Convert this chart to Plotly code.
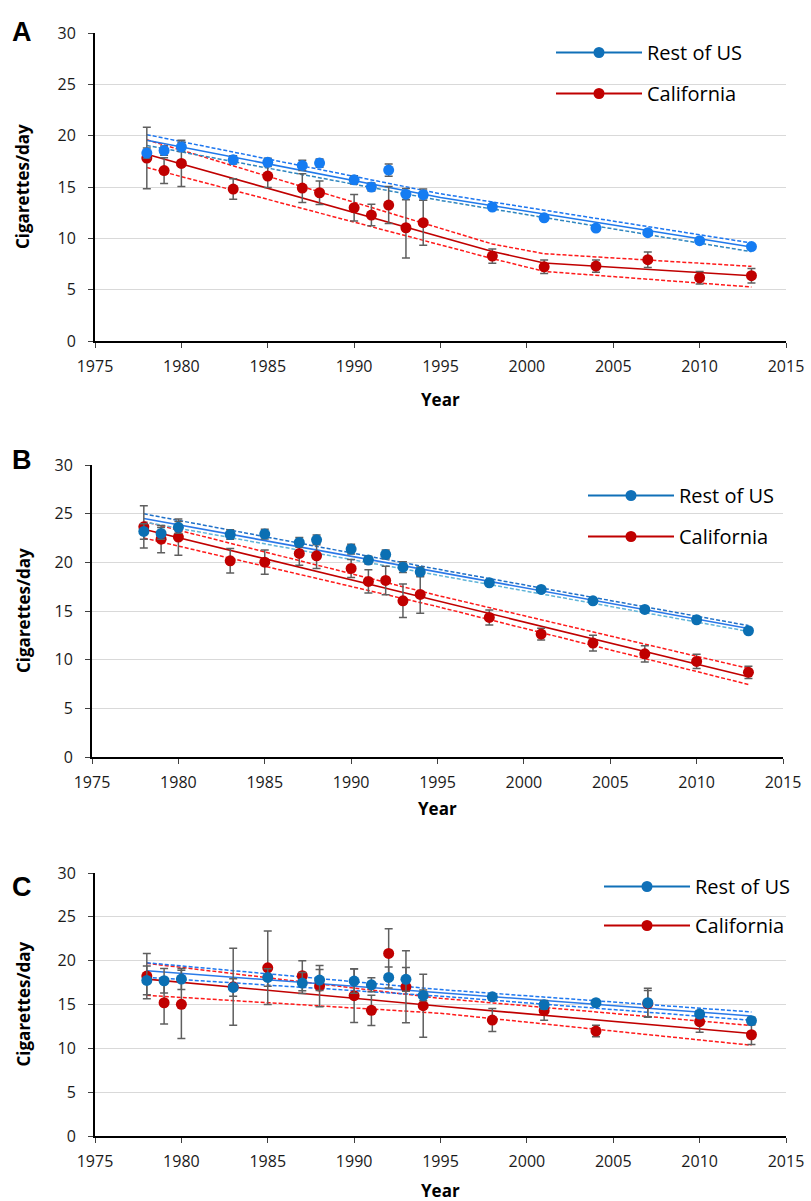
import plotly.graph_objects as go

years = [1978, 1979, 1980, 1983, 1985, 1987, 1988, 1990, 1991, 1992, 1993, 1994,
         1998, 2001, 2004, 2007, 2010, 2013]

# Panel A
A_us = [18.3, 18.55, 18.9, 17.65, 17.4, 17.1, 17.33, 15.7, 15.0, 16.65, 14.3, 14.25,
        13.05, 12.0, 11.0, 10.55, 9.77, 9.2]
A_us_err = [0.5, 0.45, 0.45, 0.4, 0.4, 0.5, 0.4, 0.4, 0.4, 0.6, 0.55, 0.55,
            0.25, 0.2, 0.2, 0.2, 0.2, 0.2]
A_ca = [17.82, 16.6, 17.3, 14.8, 16.06, 14.9, 14.44, 12.98, 12.27, 13.24, 11.03, 11.52,
        8.27, 7.23, 7.3, 7.92, 6.16, 6.36]
A_ca_err = [3.0, 1.25, 2.25, 1.0, 1.1, 1.4, 1.15, 1.3, 1.05, 1.8, 2.95, 2.2,
            0.7, 0.65, 0.6, 0.75, 0.6, 0.7]
A_us_fit_years = [1978, 1995, 2013]
A_us_fit = [19.55, 13.98, 9.15]
A_us_hi = [20.1, 14.34, 9.55]
A_us_lo = [19.05, 13.69, 8.7]
A_ca_fit_years = [1978, 1998, 2001, 2013]
A_ca_fit = [18.2, 8.72, 7.6, 6.36]
A_ca_hi = [19.6, 9.45, 8.5, 7.27]
A_ca_lo = [16.9, 8.03, 6.78, 5.26]

# Panel B
B_us = [23.17, 22.97, 23.6, 22.86, 22.9, 22.04, 22.31, 21.36, 20.23, 20.81, 19.5, 19.03,
        17.9, 17.22, 16.05, 15.16, 14.1, 12.97]
B_us_err = [0.8, 0.6, 0.6, 0.5, 0.5, 0.5, 0.5, 0.5, 0.4, 0.45, 0.55, 0.5,
            0.25, 0.2, 0.2, 0.25, 0.25, 0.2]
B_ca = [23.65, 22.38, 22.59, 20.16, 20.02, 20.91, 20.67, 19.37, 18.04, 18.14, 16.05, 16.7,
        14.34, 12.63, 11.7, 10.6, 9.82, 8.7]
B_ca_err = [2.17, 1.4, 1.87, 1.25, 1.25, 1.2, 1.3, 0.92, 1.2, 1.47, 1.73, 1.92,
            0.77, 0.6, 0.8, 0.84, 0.74, 0.63]
B_fit_years = [1978, 1995, 2013]
B_us_fit = [24.5, 19.0, 13.2]
B_us_hi = [24.98, 19.3, 13.5]
B_us_lo = [24.15, 18.7, 12.9]
B_ca_fit = [23.4, 16.05, 8.25]
B_ca_hi = [24.2, 16.6, 9.1]
B_ca_lo = [22.5, 15.45, 7.45]

# Panel C
C_us = [17.75, 17.71, 17.9, 16.95, 18.09, 17.45, 17.79, 17.67, 17.25, 18.09, 17.87, 16.04,
        15.88, 14.97, 15.2, 15.2, 13.91, 13.15]
C_us_err = [1.65, 1.4, 1.2, 1.0, 1.0, 1.2, 1.2, 1.4, 0.8, 1.2, 1.35, 0.6,
            0.3, 0.5, 0.3, 1.65, 0.4, 0.4]
C_ca = [18.24, 15.2, 15.02, 17.02, 19.19, 18.28, 17.1, 16.0, 14.33, 20.83, 17.02, 14.86,
        13.23, 14.29, 11.97, 15.1, 13.04, 11.55]
C_ca_err = [2.58, 2.43, 3.9, 4.4, 4.2, 1.72, 2.35, 3.06, 1.73, 2.8, 4.1, 3.6,
            1.3, 1.1, 0.65, 1.5, 1.2, 1.1]
C_fit_years = [1978, 1995, 2013]
C_us_fit = [18.85, 16.34, 13.68]
C_us_hi = [19.76, 16.7, 14.15]
C_us_lo = [18.1, 15.95, 13.2]
C_ca_fit = [17.9, 14.8, 11.7]
C_ca_hi = [19.7, 15.7, 12.6]
C_ca_lo = [16.05, 14.0, 10.35]

x_ticks = [1975, 1980, 1985, 1990, 1995, 2000, 2005, 2010, 2015]
y_ticks = [0, 5, 10, 15, 20, 25, 30]
series_names = ["Rest of US", "California"]
panel_labels = ["A", "B", "C"]

W, H = 811, 1201
RED = "#C00000"
RED_DASH = "#FF1A1A"
ERR = "#5F5F5F"
LEG_BLUE = "#1070B8"

panels = [
    dict(us=A_us, us_err=A_us_err, ca=A_ca, ca_err=A_ca_err,
         us_fx=A_us_fit_years, us_fit=A_us_fit, us_hi=A_us_hi, us_lo=A_us_lo,
         ca_fx=A_ca_fit_years, ca_fit=A_ca_fit, ca_hi=A_ca_hi, ca_lo=A_ca_lo,
         us_col="#157CF2", fit_col="#2079EA", hi_col="#1C76F0", lo_col="#2F86BF",
         area=(95, 786, 33, 341), year_y=399, label_y=32, leg=(551, 33), gap=12),
    dict(us=B_us, us_err=B_us_err, ca=B_ca, ca_err=B_ca_err,
         us_fx=B_fit_years, us_fit=B_us_fit, us_hi=B_us_hi, us_lo=B_us_lo,
         ca_fx=B_fit_years, ca_fit=B_ca_fit, ca_hi=B_ca_hi, ca_lo=B_ca_lo,
         us_col="#0B6FB3", fit_col="#2A78E8", hi_col="#1F70C8", lo_col="#5FB4D8",
         area=(92, 783, 465, 757), year_y=808, label_y=460, leg=(583, 476), gap=12),
    dict(us=C_us, us_err=C_us_err, ca=C_ca, ca_err=C_ca_err,
         us_fx=C_fit_years, us_fit=C_us_fit, us_hi=C_us_hi, us_lo=C_us_lo,
         ca_fx=C_fit_years, ca_fit=C_ca_fit, ca_hi=C_ca_hi, ca_lo=C_ca_lo,
         us_col="#0B6FB3", fit_col="#2A7AE8", hi_col="#1E78F0", lo_col="#1E78F0",
         area=(95, 786, 873, 1136), year_y=1190, label_y=887, leg=(599, 867), gap=10),
]

fig = go.Figure()
annotations = []

for i, p in enumerate(panels):
    n = "" if i == 0 else str(i + 1)
    xa, ya = "x" + n, "y" + n
    lg = "legend" + n
    dash = "4px,2px"
    # fit lines (behind)
    fig.add_trace(go.Scatter(x=p["ca_fx"], y=p["ca_hi"], mode="lines", xaxis=xa, yaxis=ya,
                             line=dict(color=RED_DASH, width=1.5, dash=dash), showlegend=False))
    fig.add_trace(go.Scatter(x=p["ca_fx"], y=p["ca_lo"], mode="lines", xaxis=xa, yaxis=ya,
                             line=dict(color=RED_DASH, width=1.5, dash=dash), showlegend=False))
    fig.add_trace(go.Scatter(x=p["ca_fx"], y=p["ca_fit"], mode="lines", xaxis=xa, yaxis=ya,
                             line=dict(color=RED, width=1.6), showlegend=False))
    fig.add_trace(go.Scatter(x=p["us_fx"], y=p["us_hi"], mode="lines", xaxis=xa, yaxis=ya,
                             line=dict(color=p["hi_col"], width=1.5, dash=dash), showlegend=False))
    fig.add_trace(go.Scatter(x=p["us_fx"], y=p["us_lo"], mode="lines", xaxis=xa, yaxis=ya,
                             line=dict(color=p["lo_col"], width=1.5, dash=dash), showlegend=False))
    fig.add_trace(go.Scatter(x=p["us_fx"], y=p["us_fit"], mode="lines", xaxis=xa, yaxis=ya,
                             line=dict(color=p["fit_col"], width=1.6), showlegend=False))
    # data points
    fig.add_trace(go.Scatter(x=years, y=p["ca"], mode="markers", xaxis=xa, yaxis=ya,
                             marker=dict(color=RED, size=11),
                             error_y=dict(type="data", array=p["ca_err"], color=ERR,
                                          thickness=1.5, width=4),
                             showlegend=False))
    fig.add_trace(go.Scatter(x=years, y=p["us"], mode="markers", xaxis=xa, yaxis=ya,
                             marker=dict(color=p["us_col"], size=11),
                             error_y=dict(type="data", array=p["us_err"], color=ERR,
                                          thickness=1.5, width=4),
                             showlegend=False))
    # legend entries
    for name, col in zip(series_names, [LEG_BLUE, RED]):
        fig.add_trace(go.Scatter(x=[None], y=[None], mode="lines+markers", name=name,
                                 xaxis=xa, yaxis=ya, legend=lg, legendgroup=name + n,
                                 line=dict(color=col, width=2),
                                 marker=dict(color=col, size=11)))
    left, right, top, bot = p["area"]
    dom_y = [1 - bot / H, 1 - top / H]
    dom_x = [left / W, right / W]
    axis_common = dict(showline=True, linecolor="black", linewidth=2,
                       ticks="outside", tickcolor="#404040", ticklen=5, tickwidth=1,
                       tickfont=dict(family="Open Sans", size=16, color="#1a1a1a"),
                       zeroline=False, automargin=False)
    fig.layout["xaxis" + n] = dict(domain=dom_x, range=[1975, 2015], tickvals=x_ticks,
                                   showgrid=False, anchor=ya, ticklabelstandoff=5,
                                   **axis_common)
    fig.layout["yaxis" + n] = dict(domain=dom_y, range=[0, 30], tickvals=y_ticks,
                                   showgrid=True, gridcolor="#D9D9D9", gridwidth=1,
                                   anchor=xa, ticklabelstandoff=9, **axis_common)
    lx, ly = p["leg"]
    fig.layout[lg] = dict(x=lx / W, y=1 - ly / H, xanchor="left", yanchor="top",
                          bgcolor="rgba(255,255,255,0)", itemwidth=86,
                          font=dict(family="Open Sans", size=20, color="black"),
                          tracegroupgap=p["gap"], traceorder="grouped")
    # texts
    annotations.append(dict(text="<b>Year</b>", x=(left + right) / 2 / W,
                            y=1 - p["year_y"] / H, xref="paper", yref="paper",
                            xanchor="center", yanchor="middle",
                            showarrow=False, font=dict(family="Open Sans", size=17, color="black")))
    annotations.append(dict(text="<b>Cigarettes/day</b>", x=23 / W,
                            y=1 - (top + bot) / 2 / H, xref="paper", yref="paper",
                            xanchor="center", yanchor="middle",
                            textangle=-90, showarrow=False,
                            font=dict(family="Open Sans", size=17, color="black")))
    annotations.append(dict(text="<b>" + panel_labels[i] + "</b>", x=22 / W,
                            y=1 - p["label_y"] / H, xref="paper", yref="paper",
                            xanchor="center", yanchor="middle",
                            showarrow=False,
                            font=dict(family="Liberation Sans", size=27, color="black")))

fig.update_layout(width=W, height=H, margin=dict(l=0, r=0, t=0, b=0, autoexpand=False),
                  plot_bgcolor="white", paper_bgcolor="white",
                  annotations=annotations)

fig.write_html("out.html", config={"displayModeBar": False},
               post_script="document.body.style.margin='0';document.body.style.overflow='hidden';")
